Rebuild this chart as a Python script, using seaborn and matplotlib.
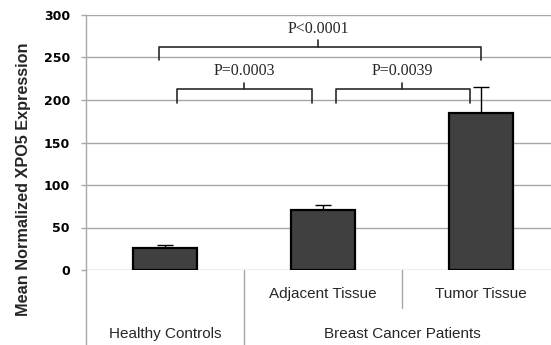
import matplotlib
matplotlib.use("Agg")
import matplotlib.pyplot as plt
import matplotlib.transforms as mtransforms
import seaborn as sns
import pandas as pd

# ---- data ----
categories = ["Healthy Controls", "Adjacent Tissue", "Tumor Tissue"]
means = [26, 71, 185]
errors = [4, 5, 30]
groups = ["Healthy Controls", "Breast Cancer Patients"]
p_labels = ["P<0.0001", "P=0.0003", "P=0.0039"]
y_ticks = [0, 50, 100, 150, 200, 250, 300]
y_label = "Mean Normalized XPO5 Expression"

sns.set_style("white")
plt.rcParams["font.family"] = ["Liberation Sans", "DejaVu Sans"]

df = pd.DataFrame({"cat": categories, "val": means})

fig = plt.figure(figsize=(5.51, 3.45), dpi=100)
W, H = 551, 345
ax = fig.add_axes([86 / W, 75 / H, (W - 86) / W, 255 / H])

grid_c = "#a8a8a8"
ax.set_axisbelow(True)
ax.yaxis.grid(True, color=grid_c, lw=1.0)

sns.barplot(data=df, x="cat", y="val", order=categories, color="#404040",
            saturation=1, width=0.405, edgecolor="black", linewidth=1.6,
            errorbar=None, ax=ax, zorder=3)
ax.errorbar(range(len(categories)), means, yerr=[[0] * len(errors), errors],
            fmt="none", ecolor="black", elinewidth=1.0, capsize=5.5,
            capthick=1.0, zorder=2)

ax.set_xlim(-0.5, -0.5 + (W - 86) / 158)
ax.set_ylim(0, 300)
ax.set_yticks(y_ticks)
ax.set_yticklabels([str(t) for t in y_ticks], family="DejaVu Sans",
                   fontweight="bold", fontsize=9)
ax.tick_params(axis="y", length=3.6, width=1, color=grid_c, pad=8,
               labelcolor="black", left=True)
ax.set_xticks([])
ax.set_xlabel("")
ax.set_ylabel("")
for s in ["top", "right", "bottom"]:
    ax.spines[s].set_visible(False)
ax.spines["left"].set_color(grid_c)
ax.spines["left"].set_linewidth(1.0)

# category axis lines below the plot
tr = mtransforms.blended_transform_factory(ax.transData, ax.transAxes)
low = -75 / 255
mid = -38 / 255
ax.plot([-0.5, -0.5], [0, low], transform=tr, color=grid_c, lw=1.0, clip_on=False)
ax.plot([0.5, 0.5], [0, low], transform=tr, color=grid_c, lw=1.0, clip_on=False)
ax.plot([1.5, 1.5], [0, mid], transform=tr, color=grid_c, lw=1.0, clip_on=False)

ax.text(1, -24 / 255, categories[1], transform=tr, ha="center", va="center", fontsize=11)
ax.text(2, -24 / 255, categories[2], transform=tr, ha="center", va="center", fontsize=11)
ax.text(0, -64 / 255, groups[0], transform=tr, ha="center", va="center", fontsize=11)
ax.text(1.5, -64 / 255, groups[1], transform=tr, ha="center", va="center", fontsize=11)

# significance brackets
br_c = "#2a2a2a"
brackets = [(-0.036, 2.0, 262, 246.5, 270, 0.97, 284),
            (0.078, 0.93, 212.5, 196, 220.5, 0.5, 234),
            (1.08, 1.93, 212.5, 196, 220.5, 1.5, 234)]
for (x1, x2, yb, yl, yt, xc, ytx), lab in zip(brackets, p_labels):
    ax.plot([x1, x1, x2, x2], [yl, yb, yb, yl], color=br_c, lw=1.2,
            clip_on=False, zorder=4)
    ax.plot([xc, xc], [yb, yt], color=br_c, lw=1.2, clip_on=False, zorder=4)
    ax.text(xc, ytx, lab, ha="center", va="center", fontsize=11.5,
            family="Liberation Serif", zorder=5)

fig.text(24 / W, 1 - 179 / H, y_label, rotation=90, ha="center", va="center",
         fontsize=11.7, fontweight="bold")

fig.savefig("out.png", dpi=100)
